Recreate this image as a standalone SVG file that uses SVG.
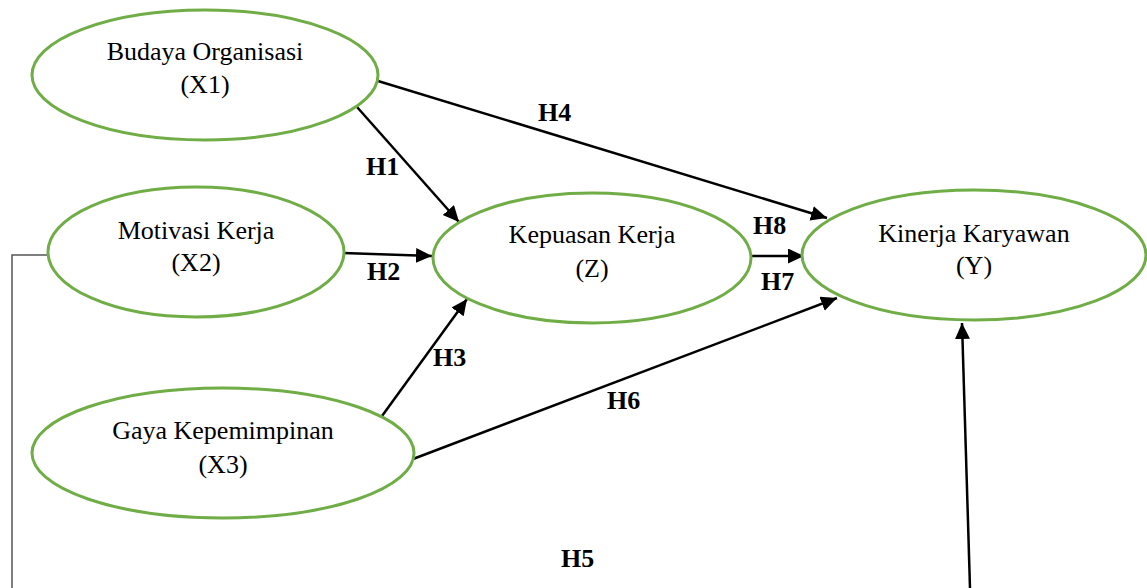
<svg xmlns="http://www.w3.org/2000/svg" width="1147" height="588" viewBox="0 0 1147 588">
<style>
.node ellipse{fill:#fff;stroke:#70AD47;stroke-width:3}
.node text{font-family:"Liberation Serif","Times New Roman",serif;font-size:26px;fill:#000;text-anchor:middle}
.edge{stroke:#000;stroke-width:2.5;fill:none;marker-end:url(#ah)}
.plain{stroke:#555;stroke-width:1.5;fill:none}
.lbl{font-family:"Liberation Serif","Times New Roman",serif;font-size:26px;font-weight:bold;fill:#000}
</style>
<defs>
<marker id="ah" markerUnits="userSpaceOnUse" markerWidth="17" markerHeight="16" refX="16" refY="7.5" orient="auto">
<path d="M0,0 L16,7.5 L0,15 z" fill="#000"/>
</marker>
</defs>
<rect width="1147" height="588" fill="#fff"/>
<g id="connectors">
<path class="plain" d="M48,255 H12 V588"/>
<line class="edge" x1="378" y1="81" x2="827" y2="218"/>
<line class="edge" x1="357" y1="107" x2="459" y2="222"/>
<line class="edge" x1="343" y1="253" x2="432" y2="256"/>
<line class="edge" x1="752" y1="256" x2="804" y2="256"/>
<line class="edge" x1="382" y1="416" x2="467" y2="299"/>
<line class="edge" x1="413" y1="459" x2="837" y2="298"/>
<line class="edge" x1="970" y1="588" x2="962" y2="323"/>
<text class="lbl" x="538" y="121">H4</text>
<text class="lbl" x="366" y="175">H1</text>
<text class="lbl" x="367" y="280">H2</text>
<text class="lbl" x="753" y="234">H8</text>
<text class="lbl" x="761" y="290">H7</text>
<text class="lbl" x="433" y="366">H3</text>
<text class="lbl" x="607" y="409">H6</text>
<text class="lbl" x="561" y="567">H5</text>
</g>
<g id="budaya" class="node">
<ellipse cx="205" cy="75" rx="173" ry="65"/>
<text x="205" y="60">Budaya Organisasi</text>
<text x="205" y="93">(X1)</text>
</g>
<g id="motivasi" class="node">
<ellipse cx="196" cy="252" rx="148" ry="65"/>
<text x="196" y="239">Motivasi Kerja</text>
<text x="196" y="271">(X2)</text>
</g>
<g id="kepuasan" class="node">
<ellipse cx="592" cy="258" rx="159" ry="65"/>
<text x="592" y="243">Kepuasan Kerja</text>
<text x="592" y="277">(Z)</text>
</g>
<g id="kinerja" class="node">
<ellipse cx="974" cy="255" rx="172" ry="65"/>
<text x="974" y="242">Kinerja Karyawan</text>
<text x="974" y="274">(Y)</text>
</g>
<g id="gaya" class="node">
<ellipse cx="223" cy="453" rx="191" ry="65"/>
<text x="223" y="439">Gaya Kepemimpinan</text>
<text x="223" y="473">(X3)</text>
</g>
</svg>
